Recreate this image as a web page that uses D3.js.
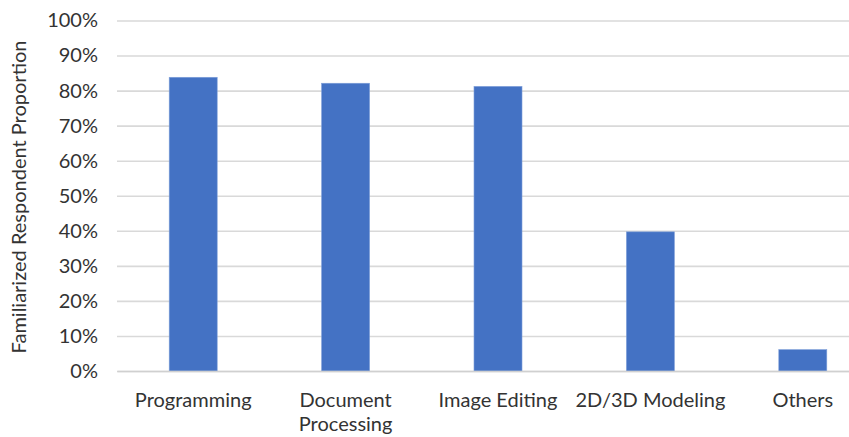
<!DOCTYPE html>
<html>
<head>
<meta charset="utf-8">
<script src="https://cdn.jsdelivr.net/npm/d3@7"></script>
<style>
  html, body { margin: 0; padding: 0; background: #fff; }
  svg { display: block; }
  text { font-family: Lato, "Open Sans", sans-serif; fill: #333; }
</style>
</head>
<body>
<svg id="chart" width="849" height="437"></svg>
<script>
// Share of respondents familiar with each kind of software
const categories = ["Programming", "Document\nProcessing", "Image Editing", "2D/3D Modeling", "Others"];
const values = [0.838, 0.821, 0.812, 0.397, 0.061];
const yTicks = [0, 0.1, 0.2, 0.3, 0.4, 0.5, 0.6, 0.7, 0.8, 0.9, 1.0];
const yTitle = "Familiarized Respondent Proportion";

const svg = d3.select("#chart");
const plot = { left: 117, right: 879, top: 20.5, bottom: 371 };

const x = d3.scaleBand()
  .domain(categories)
  .range([plot.left, plot.right])
  .paddingInner(0.685)
  .paddingOuter(0.3425);

const y = d3.scaleLinear().domain([0, 1]).range([plot.bottom, plot.top]);

// horizontal gridlines with percentage labels
const yAxis = d3.axisLeft(y)
  .tickValues(yTicks)
  .tickFormat(d3.format(".0%"))
  .tickSize(-(plot.right - plot.left));

const gy = svg.append("g")
  .attr("transform", `translate(${plot.left},0)`)
  .call(yAxis);
gy.select(".domain").remove();
gy.selectAll(".tick line").attr("stroke", "#d9d9d9").attr("stroke-width", 1.6);
gy.selectAll(".tick text")
  .attr("font-size", 20)
  .attr("fill", "#333")
  .attr("x", -19);

// bars
svg.append("g")
  .selectAll("rect")
  .data(categories)
  .join("rect")
  .attr("x", d => x(d))
  .attr("width", x.bandwidth())
  .attr("y", (d, i) => y(values[i]))
  .attr("height", (d, i) => y(0) - y(values[i]))
  .attr("fill", "#4472c4")
  .attr("stroke", "#7f9fd9")
  .attr("stroke-width", 0.6);

// category axis along the baseline
const xAxis = d3.axisBottom(x).tickSize(0).tickFormat("");
const gx = svg.append("g")
  .attr("transform", `translate(0,${plot.bottom})`)
  .call(xAxis);
gx.select(".domain").attr("stroke", "#d0d0d0").attr("stroke-width", 1.6);

// multi-line category labels
const labels = svg.append("g")
  .selectAll("text")
  .data(categories)
  .join("text")
  .attr("text-anchor", "middle")
  .attr("font-size", 20)
  .attr("x", d => x(d) + x.bandwidth() / 2)
  .attr("y", 407);
labels.each(function (d) {
  const t = d3.select(this);
  d.split("\n").forEach((line, i) => {
    t.append("tspan")
      .attr("x", t.attr("x"))
      .attr("dy", i === 0 ? 0 : 24)
      .text(line);
  });
});

// y-axis title
svg.append("text")
  .attr("transform", `translate(26,197) rotate(-90)`)
  .attr("text-anchor", "middle")
  .attr("font-size", 20)
  .text(yTitle);
</script>
</body>
</html>
